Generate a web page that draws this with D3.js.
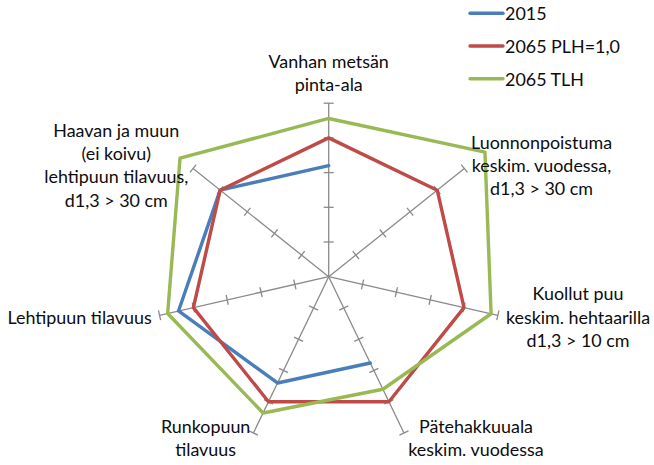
<!DOCTYPE html>
<html><head><meta charset="utf-8">
<script src="https://cdn.jsdelivr.net/npm/d3@7"></script>
<style>
html,body{margin:0;padding:0;background:#fff;}
svg{display:block;}
text{font-family:Lato,"Open Sans",sans-serif;fill:#0d0d0d;}
</style></head>
<body>
<svg id="chart" width="654" height="465"></svg>
<script>
// ---- data ----
const categories = [
  ["Vanhan metsän", "pinta-ala"],
  ["Luonnonpoistuma", "keskim. vuodessa,", "d1,3 > 30 cm"],
  ["Kuollut puu", "keskim. hehtaarilla", "d1,3 > 10 cm"],
  ["Pätehakkuuala", "keskim. vuodessa"],
  ["Runkopuun", "tilavuus"],
  ["Lehtipuun tilavuus"],
  ["Haavan ja muun", "(ei koivu)", "lehtipuun tilavuus,", "d1,3 > 30 cm"]
];
const seriesNames = ["2015", "2065 PLH=1,0", "2065 TLH"];
const values2015 = [0.80, null, null, 0.69, 0.85, 1.11, 1.00];
const valuesPLH  = [1.00, 1.00, 1.00, 1.00, 1.00, 1.00, 1.00];
const valuesTLH  = [1.14, 1.44, 1.20, 0.90, 1.09, 1.19, 1.37];
const radialTicks = [0.25, 0.5, 0.75, 1.0, 1.25];

// ---- layout ----
const colors = ["#4A7EBB", "#BE4B48", "#98B954"];
const cx = 328.7, cy = 276.7, R = 173.5;
const fontSize = 17.9, lineH = 23.2;
// label block centre offsets from the axis end point [dx, dy, anchor]
const labelOffsets = [[0,-30.7,"middle"],[77.2,-3.5,"middle"],[80.2,1.2,"middle"],[72,4.5,"middle"],[-47.8,4.5,"middle"],[-7.8,1.4,"end"],[-76.8,-3.7,"middle"]];

const svg = d3.select("#chart");
const g = svg.append("g").attr("transform", `translate(${cx},${cy})`);
const n = categories.length;
const angle = d3.scaleLinear().domain([0, n]).range([0, 2 * Math.PI]);
const r = d3.scaleLinear().domain([0, d3.max(radialTicks)]).range([0, R]);
const pt = (i, v) => [Math.sin(angle(i)) * r(v), -Math.cos(angle(i)) * r(v)];

// axes
const axisColor = "#8A8A8A";
categories.forEach((c, i) => {
  const [x2, y2] = pt(i, d3.max(radialTicks));
  g.append("line").attr("x1", 0).attr("y1", 0).attr("x2", x2).attr("y2", y2)
    .attr("stroke", axisColor).attr("stroke-width", 1.3);
  const a = angle(i);
  const px = Math.cos(a), py = Math.sin(a); // perpendicular
  radialTicks.forEach(t => {
    const [tx, ty] = pt(i, t);
    g.append("line").attr("x1", tx - px * 5).attr("y1", ty - py * 5)
      .attr("x2", tx + px * 5).attr("y2", ty + py * 5)
      .attr("stroke", axisColor).attr("stroke-width", 1.3);
  });
});

// series
const allSeries = [values2015, valuesPLH, valuesTLH];
const line = d3.line().defined(d => d.v != null).x(d => d.p[0]).y(d => d.p[1]);
allSeries.forEach((vals, s) => {
  const pts = vals.map((v, i) => ({v, p: v == null ? null : pt(i, v)}));
  pts.push(pts[0]);
  g.append("path").attr("d", line(pts)).attr("fill", "none")
    .attr("stroke", colors[s]).attr("stroke-width", 3.4)
    .attr("stroke-linejoin", "round").attr("stroke-linecap", "round");
});

// labels
categories.forEach((lines, i) => {
  const [ex, ey] = pt(i, d3.max(radialTicks));
  const [dx, dy, anchor] = labelOffsets[i];
  const bx = cx + ex + dx, by = cy + ey + dy;
  const top = by - (lines.length - 1) * lineH / 2;
  const t = svg.append("text").attr("text-anchor", anchor).attr("font-size", fontSize);
  lines.forEach((l, k) => {
    t.append("tspan").attr("x", bx).attr("y", top + k * lineH).attr("dominant-baseline", "central").text(l);
  });
});

// legend
seriesNames.forEach((name, s) => {
  const y = 13.3 + s * 32.7;
  svg.append("line").attr("x1", 470).attr("x2", 503).attr("y1", y).attr("y2", y)
    .attr("stroke", colors[s]).attr("stroke-width", 3.4).attr("stroke-linecap", "round");
  svg.append("text").attr("x", 505).attr("y", y).attr("dominant-baseline", "central")
    .attr("font-size", fontSize).text(name);
});
</script>
</body></html>
